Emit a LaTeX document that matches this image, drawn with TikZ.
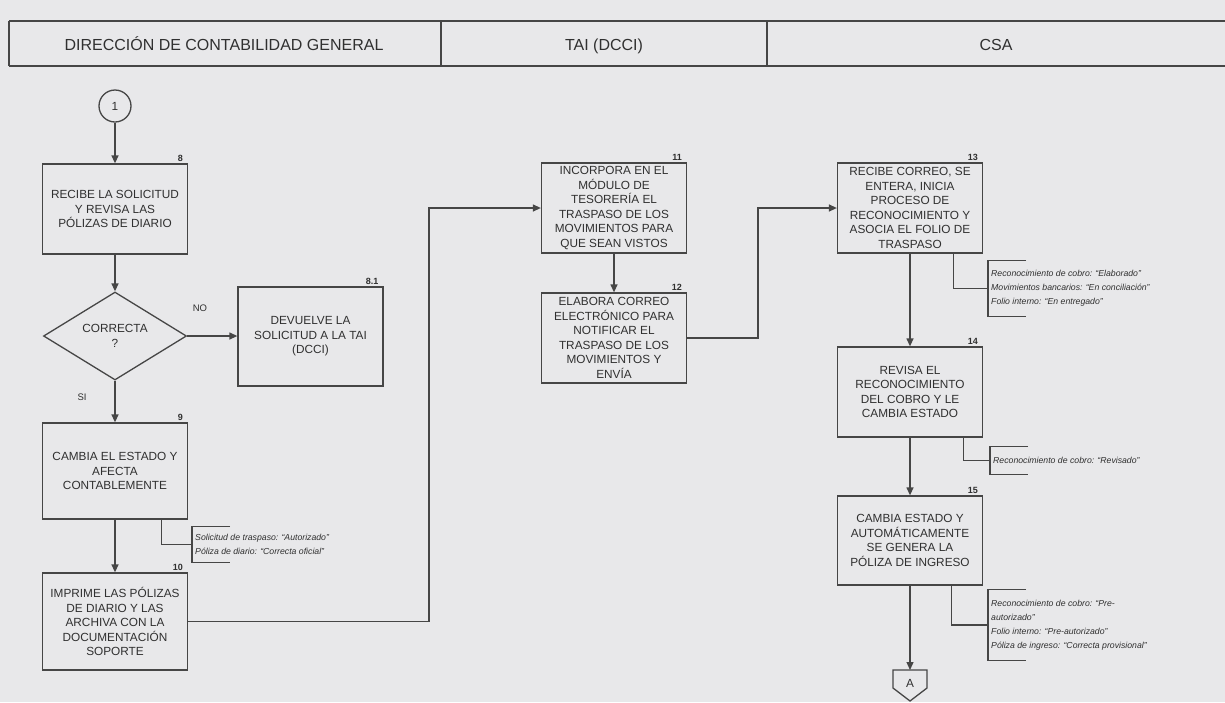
\documentclass[tikz,border=0pt]{standalone}
\usepackage{fontspec}
\setmainfont{Liberation Sans}
\usetikzlibrary{shapes.geometric,arrows.meta,calc}
\definecolor{paper}{RGB}{232,232,234}
\definecolor{ink}{RGB}{70,70,70}
\definecolor{txt}{RGB}{48,48,48}
\tikzset{
	proc/.style={draw=ink, line width=1.3pt, minimum width=145pt, minimum height=90pt, inner sep=1pt, align=center, text=txt, font=\fontsize{11.8}{14.5}\selectfont},
	num/.style={anchor=south east, inner sep=1pt, xshift=-4pt, yshift=1pt, text=txt, font=\fontsize{9}{10}\selectfont\bfseries},
	note/.style={anchor=west, align=left, inner xsep=3pt, inner ysep=0pt, text=txt, font=\fontsize{8.7}{14}\selectfont\itshape},
	head/.style={anchor=base, text=txt, font=\fontsize{16}{19}\selectfont},
	link/.style={draw=ink, line width=1.3pt},
	flow/.style={link, ->},
}
\newcommand{\notebracket}[1]{\draw[link] ($(#1.north west)+(38,0)$) -- (#1.north west) -- (#1.south west) -- ($(#1.south west)+(38,0)$);}

\begin{document}
\begin{tikzpicture}[x=1pt, y=-1pt, >={Triangle[length=8pt,width=7pt]}]
	\fill[paper] (0,0) rectangle (1225,702);
	\useasboundingbox (0,0) rectangle (1225,702);
	% lane headers
	\draw[ink, line width=2pt] (9,21) -- (1225,21);
	\draw[ink, line width=2pt] (9,66) -- (1225,66);
	\foreach \x in {9,441,767} {
		\draw[ink, line width=1.3pt] (\x,21) -- (\x,66);
	}
	\node[head] (h1) at (224,50) {DIRECCIÓN DE CONTABILIDAD GENERAL};
	\node[head] (h2) at (604,50) {TAI (DCCI)};
	\node[head] (h3) at (996,50) {CSA};
	% lane 1: direccion de contabilidad general
	\node[draw=ink, circle, line width=1.3pt, minimum size=32pt, inner sep=0pt, text=txt, font=\fontsize{11.8}{14}\selectfont] (c1) at (115,106) {1};
	\node[proc] (b8) at (115,209) {RECIBE LA SOLICITUD\\Y REVISA LAS\\PÓLIZAS DE DIARIO};
	\node[diamond, aspect=1.6, draw=ink, line width=1.3pt, minimum width=143pt, minimum height=88pt, inner sep=0pt, align=center, text=txt, font=\fontsize{11.8}{14.5}\selectfont] (d1) at (115,336) {CORRECTA\\?};
	\node[proc, minimum height=99pt] (b81) at (310.5,336.5) {DEVUELVE LA\\SOLICITUD A LA TAI\\(DCCI)};
	\node[proc, minimum height=96pt] (b9) at (115,471) {CAMBIA EL ESTADO Y\\AFECTA\\CONTABLEMENTE};
	\node[proc, minimum height=97pt] (b10) at (115,621.5) {IMPRIME LAS PÓLIZAS\\DE DIARIO Y LAS\\ARCHIVA CON LA\\DOCUMENTACIÓN\\SOPORTE};
	\node[text=txt, font=\fontsize{9.5}{11}\selectfont] (no) at (200,308) {NO};
	\node[text=txt, font=\fontsize{9.5}{11}\selectfont] (si) at (82,397) {SI};
	\node[note, minimum height=35pt] (note9) at (192,544.5) {Solicitud de traspaso: “Autorizado”\\Póliza de diario: “Correcta oficial”};
	% lane 2: tai (dcci)
	\node[proc] (b11) at (614,208) {INCORPORA EN EL\\MÓDULO DE\\TESORERÍA EL\\TRASPASO DE LOS\\MOVIMIENTOS PARA\\QUE SEAN VISTOS};
	\node[proc] (b12) at (614,338) {ELABORA CORREO\\ELECTRÓNICO PARA\\NOTIFICAR EL\\TRASPASO DE LOS\\MOVIMIENTOS Y\\ENVÍA};
	% lane 3: csa
	\node[proc] (b13) at (910,208) {RECIBE CORREO, SE\\ENTERA, INICIA\\PROCESO DE\\RECONOCIMIENTO Y\\ASOCIA EL FOLIO DE\\TRASPASO};
	\node[proc] (b14) at (910,392) {REVISA EL\\RECONOCIMIENTO\\DEL COBRO Y LE\\CAMBIA ESTADO};
	\node[proc, minimum height=89pt] (b15) at (910,540.5) {CAMBIA ESTADO Y\\AUTOMÁTICAMENTE\\SE GENERA LA\\PÓLIZA DE INGRESO};
	\node[note, minimum height=55pt] (note13) at (988,288.5) {Reconocimiento de cobro: “Elaborado”\\Movimientos bancarios: “En conciliación”\\Folio interno: “En entregado”};
	\node[note, minimum height=27pt] (note14) at (990,460.5) {Reconocimiento de cobro: “Revisado”};
	\node[note, minimum height=70pt] (note15) at (988,625) {Reconocimiento de cobro: “Pre-\\autorizado”\\Folio interno: “Pre-autorizado”\\Póliza de ingreso: “Correcta provisional”};
	\node[text=txt, font=\fontsize{11.8}{14}\selectfont] (pA) at (910,683) {A};
	\coordinate (pAtop) at ($(pA)+(0,-13)$);
	\draw[link] (pAtop) ++(-17,0) -- ++(34,0) -- ++(0,18) -- ++(-17,13) -- ++(-17,-13) -- cycle;
	% step numbers
	\node[num] (n8) at (b8.north east) {8};
	\node[num] (n81) at (b81.north east) {8.1};
	\node[num] (n9) at (b9.north east) {9};
	\node[num] (n10) at (b10.north east) {10};
	\node[num] (n11) at (b11.north east) {11};
	\node[num] (n12) at (b12.north east) {12};
	\node[num] (n13) at (b13.north east) {13};
	\node[num] (n14) at (b14.north east) {14};
	\node[num] (n15) at (b15.north east) {15};
	% flow
	\coordinate (k1) at (429,0);
	\coordinate (k2) at (758,0);
	\draw[flow] (c1) -- (b8);
	\draw[flow] (b8) -- (d1);
	\draw[flow] (d1.east) -- (d1.east -| b81.west);
	\draw[flow] (d1) -- (b9);
	\draw[flow] (b9) -- (b10);
	\draw[flow] (b10.east) -- (b10.east -| k1) |- (b11.west);
	\draw[flow] (b11) -- (b12);
	\draw[flow] (b12.east) -- (b12.east -| k2) |- (b13.west);
	\draw[flow] (b13) -- (b14);
	\draw[flow] (b14) -- (b15);
	\draw[flow] (b15) -- (pAtop);
	% state notes
	\draw[link] ($(b9.south east)+(-27,0)$) |- (note9.west);
	\draw[link] ($(b13.south east)+(-30,0)$) |- (note13.west);
	\draw[link] ($(b14.south east)+(-20,0)$) |- (note14.west);
	\draw[link] ($(b15.south east)+(-32,0)$) |- (note15.west);
	\notebracket{note9}
	\notebracket{note13}
	\notebracket{note14}
	\notebracket{note15}
\end{tikzpicture}
\end{document}
